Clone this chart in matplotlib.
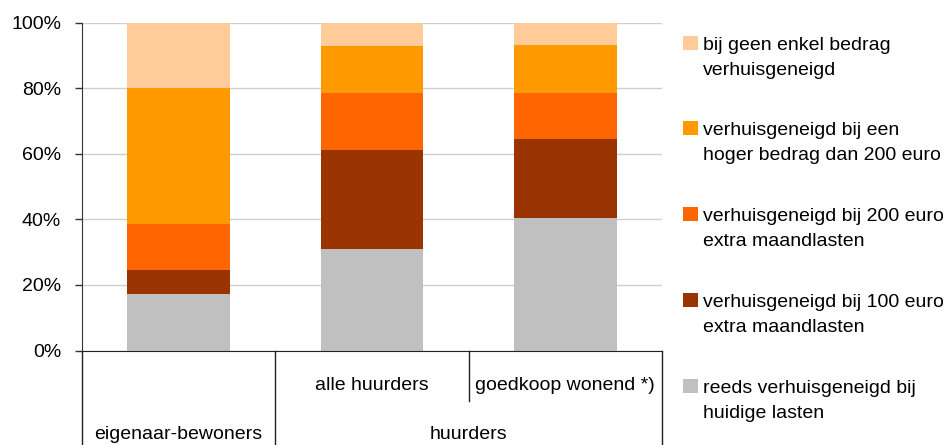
import matplotlib
matplotlib.use("Agg")
import matplotlib.pyplot as plt
import matplotlib.transforms as mtransforms
from matplotlib.patches import Rectangle
import numpy as np

plt.rcParams["font.family"] = ["Liberation Sans", "DejaVu Sans"]

# Groups along the x axis
groups = ["eigenaar-bewoners", "alle huurders", "goedkoop wonend *)"]
top_groups = ["eigenaar-bewoners", "huurders"]

# Shares (%) per answer, stacked bottom to top
reeds = [17.2, 30.9, 40.4]
bij_100 = [7.3, 30.2, 24.1]
bij_200 = [14.1, 17.4, 14.0]
hoger_200 = [41.4, 14.3, 14.6]
geen_bedrag = [20.0, 7.2, 6.9]

series = [reeds, bij_100, bij_200, hoger_200, geen_bedrag]
series_labels = [
    "reeds verhuisgeneigd bij\nhuidige lasten",
    "verhuisgeneigd bij 100 euro\nextra maandlasten",
    "verhuisgeneigd bij 200 euro\nextra maandlasten",
    "verhuisgeneigd bij een\nhoger bedrag dan 200 euro",
    "bij geen enkel bedrag\nverhuisgeneigd",
]
colors = ["#C0C0C0", "#993300", "#FF6600", "#FF9900", "#FFCC99"]

yticks = [0, 20, 40, 60, 80, 100]
ytick_labels = ["0%", "20%", "40%", "60%", "80%", "100%"]

W, H = 945, 445
fig = plt.figure(figsize=(W / 100, H / 100), dpi=100)
ax = fig.add_axes([82 / W, 94.5 / H, 580 / W, 328 / H])

x = np.arange(len(groups))
bottom = np.zeros(len(groups))
for vals, col in zip(series, colors):
    ax.bar(x, vals, width=0.53, bottom=bottom, color=col, zorder=2, linewidth=0)
    bottom += np.array(vals)

ax.set_xlim(-0.5, 2.5)
ax.set_ylim(0, 100)
ax.set_yticks(yticks)
ax.set_yticklabels(ytick_labels, fontsize=14)
ax.tick_params(axis="y", length=5, width=1, color="#333333", pad=10)
ax.set_xticks([])
ax.grid(axis="y", color="#CFCFCF", linewidth=1, zorder=0)
for s in ["top", "right"]:
    ax.spines[s].set_visible(False)
ax.spines["left"].set_color("#333333")
ax.spines["bottom"].set_color("#222222")
ax.spines["left"].set_zorder(3)
ax.spines["bottom"].set_zorder(3)

# Two-level category table under the axis
trans = mtransforms.blended_transform_factory(ax.transData, ax.transAxes)
full = -95 / 328
half = -50 / 328
for xpos, ybot in [(-0.5, full), (0.5, full), (1.5, half), (2.5, full)]:
    ax.plot([xpos, xpos], [0, ybot], color="#222222", linewidth=1,
            transform=trans, clip_on=False)

ax.text(1, -35 / 328, groups[1], transform=trans, ha="center", va="center", fontsize=14)
ax.text(2, -35 / 328, groups[2], transform=trans, ha="center", va="center", fontsize=14)
ax.text(0, -84 / 328, top_groups[0], transform=trans, ha="center", va="center", fontsize=14)
ax.text(1.5, -84 / 328, top_groups[1], transform=trans, ha="center", va="center", fontsize=14)

# Legend, top entry = top of the stack
entry_y = [43, 128, 214, 300, 386]
for i, (lab, col) in enumerate(zip(series_labels[::-1], colors[::-1])):
    yc = entry_y[i]
    fig.patches.append(Rectangle((683 / W, 1 - (yc + 7) / H), 15 / W, 14 / H,
                                 transform=fig.transFigure, facecolor=col,
                                 edgecolor="none"))
    for j, line in enumerate(lab.split("\n")):
        fig.text(703 / W, 1 - (yc + 7 + 25 * j) / H, line, ha="left",
                 va="baseline", fontsize=14)

fig.savefig("out.png", dpi=100)
